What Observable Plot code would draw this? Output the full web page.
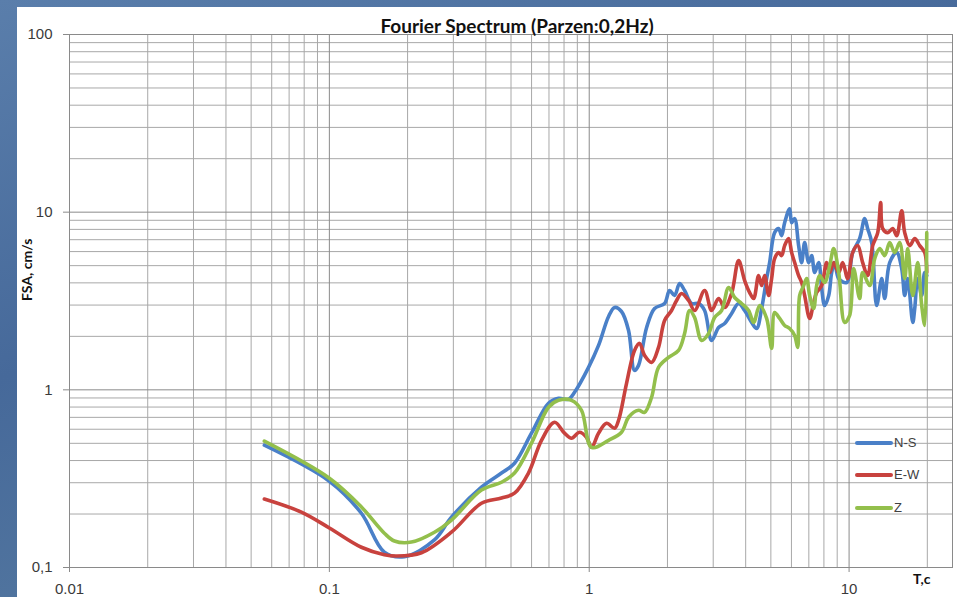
<!DOCTYPE html>
<html><head><meta charset="utf-8">
<script src="https://cdn.jsdelivr.net/npm/d3@7"></script>
<script src="https://cdn.jsdelivr.net/npm/@observablehq/plot@0.6"></script>
<style>
body{margin:0;background:#4a6f9e;}
#wrap{position:relative;width:957px;height:597px;overflow:hidden;
 background:linear-gradient(160deg,#5a7eab 0%,#46699a 40%,#52769f 70%,#3f6392 100%);}
#panel{position:absolute;left:17px;top:7px;width:940px;height:590px;background:#fff;}
#chart{position:absolute;left:0;top:0;}
.lg{position:absolute;height:4px;width:38px;border-radius:2px;}
.lt{position:absolute;font:13px "Liberation Sans",Arial,sans-serif;color:#404040;line-height:14px;}
</style></head>
<body>
<div id="wrap"><div id="panel"></div><div id="chart"></div></div>
<script>
const title = "Fourier Spectrum (Parzen:0,2Hz)";
const yLabel = "FSA, cm/s";
const xLabel = "T,c";
const seriesNames = ["N-S", "E-W", "Z"];
const seriesColors = ["#4a80c8", "#c8423e", "#93bf4c"];

const xTicks = [0.01, 0.1, 1, 10];
const yTicks = [0.1, 1, 10, 100];
const xMinor = [0.02,0.03,0.04,0.05,0.06,0.07,0.08,0.09,0.2,0.3,0.4,0.5,0.6,0.7,0.8,0.9,2,3,4,5,6,7,8,9,20];
const yMinor = [0.2,0.3,0.4,0.5,0.6,0.7,0.8,0.9,2,3,4,5,6,7,8,9,20,30,40,50,60,70,80,90];

const nsT = [0.0562,0.1,0.1328,0.1628,0.1944,0.2537,0.295,0.3848,0.4596,0.5158,0.5995,0.6972,0.7617,0.8325,0.878,0.994,1.086,1.187,1.252,1.331,1.417,1.494,1.548,1.663,1.784,1.95,2.038,2.13,2.227,2.328,2.477,2.636,2.78,2.958,3.147,3.319,3.531,3.757,3.963,
  4.217,4.408,4.608,4.816,4.946,5.169,5.356,5.501,5.649,5.905,6.012,6.173,6.395,6.568,6.745,6.989,7.178,7.371,7.638,7.843,8.054,8.348,8.57,8.801,9.12,9.79,10.32,10.98,11.48,11.79,12.22,12.77,13.35,13.71,14.33,15.25,15.94,16.37,16.81,17.58,17.89,18.37,19.03,19.55,19.9];
const nsV = [0.488,0.306,0.202,0.122,0.115,0.143,0.192,0.283,0.340,0.386,0.570,0.840,0.896,0.884,0.968,1.338,1.778,2.588,2.908,2.761,2.159,1.287,1.373,2.244,2.870,3.062,3.622,3.396,3.965,3.622,3.062,3.062,2.797,1.897,2.244,2.364,2.690,3.062,2.797,
  2.394,2.215,2.870,4.230,5.203,7.670,8.078,7.379,8.730,10.46,8.730,9.193,6.484,5.203,6.741,5.203,5.694,4.573,5.203,3.717,2.984,3.396,4.573,5.203,4.230,4.017,5.921,7.097,9.193,8.078,6.741,2.984,4.230,3.266,5.203,5.921,4.815,3.396,4.230,2.394,2.870,4.230,3.396,4.573,4.398];

const ewT = [0.0562,0.078,0.1,0.1328,0.1628,0.1811,0.2261,0.295,0.3848,0.4596,0.5158,0.5838,0.6552,0.7355,0.8035,0.8548,0.9175,0.976,1.021,1.086,1.166,1.252,1.297,1.392,1.494,1.562,1.633,1.738,1.848,1.95,2.074,2.169,2.267,2.412,2.544,2.78,2.958,3.147,3.319,3.531,3.757,3.963,
  4.143,4.292,4.485,4.608,4.732,4.902,5.035,5.169,5.356,5.501,5.649,5.853,6.012,6.173,6.395,6.568,6.745,7.051,7.306,7.503,7.843,8.199,8.422,8.724,9.12,9.449,9.876,10.32,10.79,11.28,11.79,12.33,12.89,13.23,13.47,14.08,14.72,15.25,15.94,16.37,17.12,17.89,18.7,19.55,19.9];
const ewV = [0.243,0.205,0.167,0.130,0.118,0.116,0.121,0.158,0.230,0.246,0.262,0.340,0.520,0.657,0.570,0.534,0.577,0.541,0.475,0.570,0.648,0.608,0.674,1.088,1.667,1.825,1.562,1.427,1.733,2.457,2.797,3.184,3.485,3.184,2.797,3.622,2.797,3.266,2.908,3.485,5.339,4.123,
  3.529,3.266,4.398,3.864,4.398,3.396,4.230,5.480,5.921,5.694,6.484,7.097,5.921,5.203,4.398,4.017,3.396,2.522,3.101,3.529,3.864,5.203,4.573,5.203,4.573,5.203,4.230,5.921,6.484,5.203,4.398,6.484,7.670,11.31,8.078,7.670,8.078,7.379,10.19,7.670,6.484,7.097,6.484,5.921,4.573];

const zT = [0.0562,0.1,0.1328,0.1628,0.178,0.2069,0.2537,0.295,0.3848,0.4596,0.5158,0.5995,0.6972,0.7617,0.8548,0.934,1.021,1.187,1.331,1.417,1.548,1.633,1.738,1.848,2.02,2.207,2.328,2.434,2.544,2.706,2.88,3.037,3.232,3.439,3.627,3.858,4.106,
  4.292,4.527,4.816,5.035,5.169,5.404,5.649,5.905,6.173,6.34,6.454,6.687,6.866,7.051,7.306,7.503,7.706,8.054,8.422,8.724,9.12,9.618,10.05,10.41,10.98,11.28,12.0,12.55,13.12,13.71,14.33,14.98,15.66,16.37,16.81,17.58,18.37,19.03,19.55,19.9];
const zV = [0.514,0.318,0.219,0.156,0.141,0.139,0.158,0.185,0.273,0.302,0.340,0.501,0.798,0.873,0.873,0.767,0.475,0.520,0.577,0.701,0.767,0.747,0.908,1.338,1.522,1.667,2.077,2.797,2.555,1.897,2.077,2.555,2.797,3.766,3.309,3.062,2.797,
  2.394,2.984,2.522,1.711,2.725,2.522,2.303,2.215,2.024,1.733,3.396,3.864,4.230,3.396,2.870,3.864,4.398,4.017,5.004,6.236,4.573,2.394,2.621,4.815,3.266,4.573,3.864,5.480,6.236,5.694,6.741,5.921,6.741,4.230,6.236,3.396,5.203,2.984,2.303,7.670];

const seriesT = [nsT, ewT, zT];
const seriesV = [nsV, ewV, zV];
const rows = [];
seriesNames.forEach((name, i) => {
  const n = Math.min(seriesT[i].length, seriesV[i].length);
  for (let k = 0; k < n; k++) rows.push({series: name, T: seriesT[i][k], V: seriesV[i][k]});
});

const font = '"Liberation Sans", Arial, sans-serif';
const chart = Plot.plot({
  width: 957, height: 597,
  marginLeft: 69, marginRight: 5, marginTop: 34, marginBottom: 30,
  style: {background: "transparent", fontFamily: font, overflow: "visible"},
  x: {type: "log", domain: [0.01, 25], label: null, axis: null},
  y: {type: "log", domain: [0.1, 100], label: null, axis: null},
  color: {domain: seriesNames, range: seriesColors},
  marks: [
    Plot.ruleX(xMinor, {stroke: "#a8a8a8", strokeWidth: 1}),
    Plot.ruleY(yMinor, {stroke: "#a8a8a8", strokeWidth: 1}),
    Plot.ruleX(xTicks, {stroke: "#8a8a8a", strokeWidth: 1}),
    Plot.ruleY(yTicks, {stroke: "#8a8a8a", strokeWidth: 1}),
    Plot.frame({stroke: "#8a8a8a"}),
    Plot.axisX({ticks: xTicks, tickFormat: d => String(d), tickSize: 5, tickPadding: 11, fontSize: 15, fill: "#3a3a3a", stroke: "#8a8a8a", label: null}),
    Plot.axisY({ticks: yTicks, tickFormat: d => String(d).replace(".", ","), tickSize: 6, tickPadding: 11, fontSize: 15, fill: "#3a3a3a", stroke: "#8a8a8a", label: null}),
    Plot.line(rows, {x: "T", y: "V", z: "series", stroke: "series", strokeWidth: 3.6, curve: "catmull-rom", strokeLinejoin: "round"}),
    Plot.text([title], {frameAnchor: "top", dx: 6, dy: -15, fontSize: 19, fontWeight: "bold", fill: "#111", fontFamily: "Lato, " + font}),
    Plot.text([yLabel], {frameAnchor: "left", dx: -42, rotate: -90, fontSize: 14, fontWeight: "bold", fill: "#111", fontFamily: "Lato, " + font}),
    Plot.text([xLabel], {frameAnchor: "bottom-right", dx: -22, dy: 16, fontSize: 14, fontWeight: "bold", fill: "#111", fontFamily: "Lato, " + font})
  ]
});
document.getElementById("chart").appendChild(chart);

// legend
const legY = [443, 475, 508];
const wrap = document.getElementById("wrap");
seriesNames.forEach((name, i) => {
  const l = document.createElement("div");
  l.className = "lg"; l.style.left = "855px"; l.style.top = (legY[i] - 2) + "px";
  l.style.background = seriesColors[i];
  wrap.appendChild(l);
  const t = document.createElement("div");
  t.className = "lt"; t.style.left = "894px"; t.style.top = (legY[i] - 7) + "px";
  t.textContent = name;
  wrap.appendChild(t);
});
</script>
</body></html>
